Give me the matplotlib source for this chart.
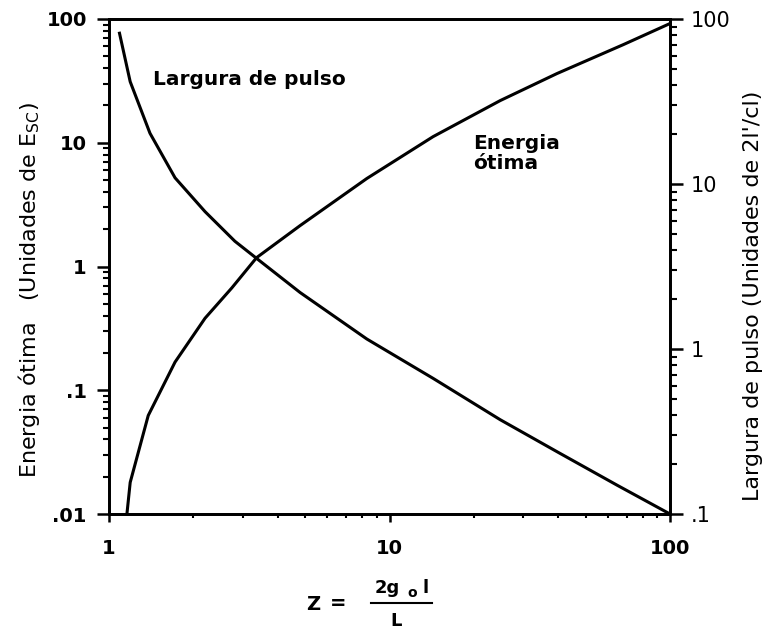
import matplotlib
matplotlib.use("Agg")
import matplotlib.pyplot as plt
from matplotlib.ticker import LogLocator, NullFormatter, FixedLocator, FixedFormatter
from matplotlib.lines import Line2D

plt.rcParams['font.family'] = ['DejaVu Sans']
plt.rcParams['mathtext.fontset'] = 'dejavusans'

# Optimum output energy (units of E_sc) vs Z
z_energy = [1.16, 1.19, 1.38, 1.72, 2.2, 2.74, 3.36, 4.8, 8.3, 14.3, 24.8, 39.5, 68.2, 99.0]
energy = [0.0103, 0.018, 0.0625, 0.169, 0.382, 0.671, 1.18, 2.14, 5.14, 11.2, 21.9, 36.2, 62.1, 91.0]

# Pulse width (units of 2l'/c) vs Z
z_pulse = [1.09, 1.19, 1.40, 1.72, 2.2, 2.81, 3.36, 4.8, 8.3, 14.3, 24.8, 40.0, 65.0, 100.0]
pulse = [82.0, 41.7, 20.3, 10.9, 6.8, 4.5, 3.54, 2.2, 1.15, 0.664, 0.373, 0.236, 0.149, 0.1]

x_ticks = [1, 10, 100]
x_labels = ["1", "10", "100"]
left_ticks = [0.01, 0.1, 1, 10, 100]
left_labels = [".01", ".1", "1", "10", "100"]
right_ticks = [0.1, 1, 10, 100]
right_labels = [".1", "1", "10", "100"]

W, H = 768, 633


def px(x, y):
    return x / W, 1 - y / H


fig = plt.figure(figsize=(W / 100, H / 100), dpi=100)
ax = fig.add_axes([109 / W, 1 - 514 / H, (670 - 109) / W, (514 - 19) / H])
ax2 = ax.twinx()

lw = 2.2
ax.plot(z_energy, energy, color='black', lw=lw, solid_joinstyle='round')
ax2.plot(z_pulse, pulse, color='black', lw=lw, solid_joinstyle='round')

for a in (ax, ax2):
    a.set_xscale('log')
    a.set_yscale('log')
    a.set_xlim(1, 100)
    for s in a.spines.values():
        s.set_linewidth(2.0)

ax.set_ylim(0.01, 100)
ax2.set_ylim(0.1, 100)

ax.xaxis.set_major_locator(FixedLocator(x_ticks))
ax.xaxis.set_major_formatter(FixedFormatter(x_labels))
ax.xaxis.set_minor_locator(LogLocator(base=10, subs=range(2, 10)))
ax.xaxis.set_minor_formatter(NullFormatter())

ax.yaxis.set_major_locator(FixedLocator(left_ticks))
ax.yaxis.set_major_formatter(FixedFormatter(left_labels))
ax.yaxis.set_minor_locator(LogLocator(base=10, subs=range(2, 10)))
ax.yaxis.set_minor_formatter(NullFormatter())

ax2.yaxis.set_major_locator(FixedLocator(right_ticks))
ax2.yaxis.set_major_formatter(FixedFormatter(right_labels))
ax2.yaxis.set_minor_locator(LogLocator(base=10, subs=range(2, 10)))
ax2.yaxis.set_minor_formatter(NullFormatter())

ax.tick_params(axis='x', which='major', direction='out', length=6, width=1.8, pad=12,
               labelsize=14)
ax.tick_params(axis='x', which='minor', direction='out', length=3, width=1.5)
ax.tick_params(axis='y', which='major', direction='out', length=9, width=1.8, pad=7,
               labelsize=14)
ax.tick_params(axis='y', which='minor', direction='out', length=4, width=1.5)
ax2.tick_params(axis='y', which='major', direction='out', length=9, width=1.8, pad=6,
                labelsize=15)
ax2.tick_params(axis='y', which='minor', direction='out', length=5, width=1.5)

for t in ax.get_yticklabels():
    t.set_fontweight('bold')
for t in ax.get_xticklabels():
    t.set_fontweight('bold')

# Axis titles
fig.text(*px(29, 290), "Energia ótima   (Unidades de E$_{\\rm SC}$)", rotation=90,
         ha='center', va='center', fontsize=16)
fig.text(*px(753, 296), "Largura de pulso (Unidades de 2l'/cl)", rotation=90,
         ha='center', va='center', fontsize=16)

# Curve annotations
fig.text(*px(153, 85), "Largura de pulso", ha='left', va='baseline',
         fontsize=14.5, fontweight='bold')
fig.text(*px(473, 134), "Energia\nótima", ha='left', va='top',
         fontsize=14.5, fontweight='bold', linespacing=1.05)

# x-axis title: Z = 2 g_o l / L
fig.text(*px(313, 605), "Z", ha='center', va='center', fontsize=14, fontweight='bold')
fig.text(*px(338, 603), "=", ha='center', va='center', fontsize=14, fontweight='bold')
fig.text(*px(375, 593), "2g", ha='left', va='baseline', fontsize=13, fontweight='bold')
fig.text(*px(407, 597), "o", ha='left', va='baseline', fontsize=10, fontweight='bold')
fig.text(*px(422, 593), "l", ha='left', va='baseline', fontsize=13, fontweight='bold')
fig.add_artist(Line2D([371 / W, 432 / W], [1 - 603 / H, 1 - 603 / H],
                      transform=fig.transFigure, color='black', lw=1.5))
fig.text(*px(396, 621), "L", ha='center', va='center', fontsize=13, fontweight='bold')

fig.savefig("out.png", dpi=100)
